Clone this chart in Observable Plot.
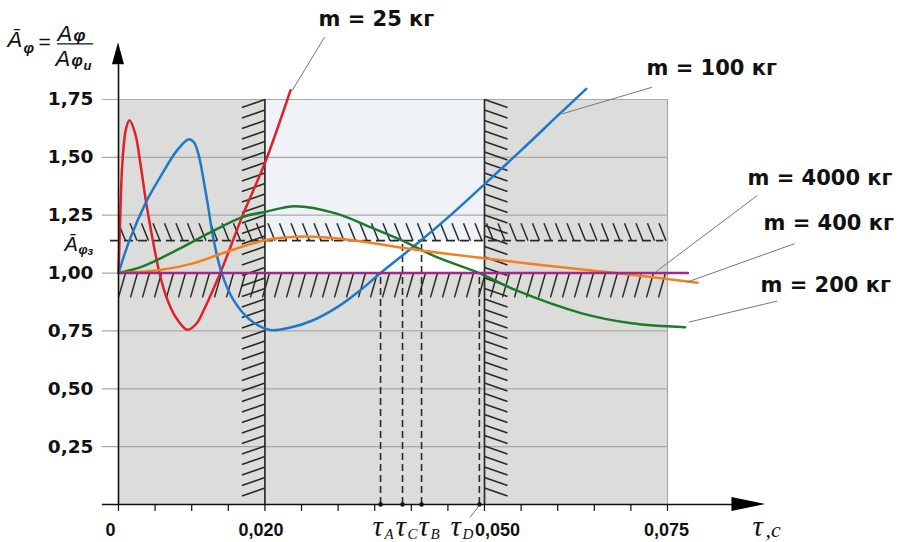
<!DOCTYPE html>
<html><head><meta charset="utf-8">
<script src="https://cdn.jsdelivr.net/npm/d3@7"></script>
<script src="https://cdn.jsdelivr.net/npm/@observablehq/plot@0.6"></script>
<style>body{margin:0;background:#fff}</style>
</head><body><div id="chart"></div>
<script>
// ---- data (time τ in s, relative amplitude Āφ) ----
const tau25  = [0,0.0002,0.0005,0.0010,0.0015,0.0023,0.0030,0.0038,0.0047,0.0056,0.0065,0.0078,0.0094,0.0106,0.0118,0.0139,0.0171,0.0201,0.0235];
const amp25  = [1.00,1.20,1.46,1.62,1.66,1.60,1.47,1.30,1.14,1.00,0.90,0.81,0.755,0.78,0.85,1.00,1.26,1.484,1.79];
const tau100 = [0,0.0016,0.0039,0.0057,0.0080,0.0096,0.0103,0.0109,0.0121,0.0130,0.0141,0.0157,0.0180,0.0207,0.0235,0.0265,0.0300,0.0330,0.0358,0.0411,0.0456,0.0502,0.0550,0.0600,0.0639];
const amp100 = [1.00,1.15,1.315,1.415,1.53,1.578,1.565,1.516,1.315,1.142,1.00,0.884,0.797,0.754,0.765,0.795,0.855,0.925,1.00,1.135,1.257,1.39,1.53,1.68,1.796];
const tau200 = [0,0.0034,0.0080,0.0125,0.0170,0.0200,0.0241,0.0298,0.0343,0.0388,0.0434,0.0493,0.0542,0.0633,0.0701,0.0774];
const amp200 = [1.00,1.03,1.10,1.175,1.243,1.264,1.289,1.257,1.20,1.14,1.07,1.00,0.927,0.826,0.783,0.766];
const tau400 = [0,0.0057,0.0102,0.0148,0.0200,0.0245,0.0280,0.0320,0.0411,0.0502,0.0550,0.0600,0.0650,0.0700,0.0745,0.0791];
const amp400 = [1.00,1.013,1.042,1.092,1.142,1.157,1.155,1.142,1.099,1.063,1.045,1.027,1.01,0.993,0.976,0.958];
const tau4000 = [0,0.0778];
const amp4000 = [1.00,1.00];

const seriesNames = ["m = 25 кг","m = 100 кг","m = 200 кг","m = 400 кг","m = 4000 кг"];
const yTicks = [0.25,0.50,0.75,1.00,1.25,1.50,1.75];
const yTickLabels = ["0,25","0,50","0,75","1,00","1,25","1,50","1,75"];
const xTicks = [0,0.020,0.050,0.075];
const xTickLabels = ["0","0,020","0,050","0,075"];
const xMinor = [0,0.005,0.010,0.015,0.020,0.025,0.030,0.035,0.040,0.045,0.050,0.055,0.060,0.065,0.070,0.075];
const ampGiven = 1.14;             // Āφз
const ampBand = [0.895, 1.215];   // tolerance band edges
const wallLeft = 0.020, wallRight = 0.050, tMax = 0.075, aMax = 1.75;
const tauNames = ["A","C","B","D"];
const tauVals  = [0.0358,0.0388,0.0414,0.0493];
const tauLevel = [1.00,1.14,1.14,1.00];

// ---- layout / style ----
const W = 900, H = 542, mL = 118, mR = 233, mT = 99, mB = 38;
const tPx = tMax / (W - mL - mR), vPx = aMax / (H - mT - mB);
const colors = ["#e0202a","#1f78c8","#1b7a2c","#f08020","#9c2a88"];
const dark = "#2a2a2a";
const seriesData = [[tau25,amp25],[tau100,amp100],[tau200,amp200],[tau400,amp400],[tau4000,amp4000]]
  .map(([ts,vs]) => ts.map((t,i) => ({t, v: vs[i]})));

const bold = {fontFamily:"DejaVu Sans", fontWeight:"bold", fill:"#111"};
const txt = (t, v, s, o) => Plot.text([{t, v, s}], {x:"t", y:"v", text:"s", ...o});
const ital = {lineAnchor:"bottom", textAnchor:"start", fontFamily:"Liberation Sans", fontStyle:"italic", fill:"#111"};

// hatch generators (decoration)
const hatchUp = d3.range(0, 0.0742, 11.5*tPx).map(t => ({x1:t, y1:ampBand[1], x2:t+7*tPx, y2:ampGiven}));
const hatchLo = d3.range(0, 0.0742, 12*tPx).map(t => ({x1:t, y1:ampBand[0], x2:t+7*tPx, y2:1.0}));
const wallSteps = d3.range(aMax, 8*vPx - 0.001, -10.5*vPx);
const hatchW1 = wallSteps.map(v => ({x1:wallLeft-23*tPx, y1:v-8*vPx, x2:wallLeft, y2:v}));
const hatchW2 = wallSteps.map(v => ({x1:wallRight, y1:v, x2:wallRight+23*tPx, y2:v-8*vPx}));
const link = (d, o) => Plot.link(d, {x1:"x1", y1:"y1", x2:"x2", y2:"y2", ...o});

// leaders: [curve point, label point]
const leaders = [
  [0.02373,1.789,0.02814,2.019],
  [0.06061,1.688,0.07291,1.803],
  [0.07791,0.788,0.08999,0.879],
  [0.07769,0.961,0.09235,1.127],
  [0.07336,1.004,0.08725,1.335]
].map(([a,b,c,d]) => ({x1:a,y1:b,x2:c,y2:d}));
const labelPos = [[0.02732,2.096],[0.07213,1.884],[0.0877,0.946],[0.08811,1.214],[0.08593,1.409]];
const xLabelShift = [-8,-4,13,-1];
const tauShift = [-8,-7,-3,-29];

const plot = Plot.plot({
  width: W, height: H, marginLeft: mL, marginRight: mR, marginTop: mT, marginBottom: mB,
  x: {domain:[0,tMax], axis:null},
  y: {domain:[0,aMax], axis:null},
  style: {background:"#fff", overflow:"visible"},
  marks: [
    Plot.rect([0], {x1:0, x2:tMax, y1:0, y2:aMax, fill:"#dcdcda"}),
    Plot.rect([0], {x1:wallLeft, x2:wallRight, y1:ampGiven, y2:aMax, fill:"#eff3f8"}),
    Plot.rect([0], {x1:wallLeft, x2:wallRight, y1:1.0, y2:ampGiven, fill:"#ffffff"}),
    Plot.ruleY(yTicks, {x1:-0.0022, x2:tMax, stroke:"#a9a9a9", strokeWidth:1.2}),
    Plot.ruleX([tMax], {y1:0, y2:aMax, stroke:"#a9a9a9", strokeWidth:1.2}),
    link(hatchUp, {stroke:dark, strokeWidth:1.5}),
    link(hatchLo, {stroke:dark, strokeWidth:1.5}),
    link(hatchW1, {stroke:dark, strokeWidth:1.6}),
    link(hatchW2, {stroke:dark, strokeWidth:1.6}),
    Plot.ruleX([wallLeft, wallRight], {y1:0, y2:aMax, stroke:dark, strokeWidth:1.7}),
    Plot.ruleY([ampGiven], {x1:-0.0011, x2:0.0745, stroke:dark, strokeWidth:1.8, strokeDasharray:"9,5"}),
    Plot.ruleX(tauVals.map((t,i)=>({t, top: tauLevel[i]})), {x:"t", y1:0, y2:"top", stroke:dark, strokeWidth:1.6, strokeDasharray:"7,4"}),
    ...seriesData.map((d,i) => Plot.line(d, {x:"t", y:"v", stroke:colors[i], strokeWidth:2.5, curve:"catmull-rom"})),
    Plot.dot(tauVals, {x:d=>d, y:0, r:2.3, fill:"#111"}),
    // axes
    Plot.ruleX([0], {y1:0, y2:1.9, stroke:"#111", strokeWidth:1.6}),
    Plot.ruleY([0], {x1:-0.0022, x2:0.0842, stroke:"#111", strokeWidth:1.6}),
    Plot.areaY([{t:-6*tPx,a:1.9,b:1.9},{t:0,a:1.9,b:1.995},{t:6*tPx,a:1.9,b:1.9}], {x:"t", y1:"a", y2:"b", fill:"#000", curve:"linear"}),
    Plot.areaX([{v:-7*vPx,a:0.0838,b:0.0838},{v:0,a:0.0838,b:0.0884},{v:7*vPx,a:0.0838,b:0.0838}], {y:"v", x1:"a", x2:"b", fill:"#000", curve:"linear"}),
    Plot.ruleX(xMinor, {y1:0, y2:-7*vPx, stroke:"#111", strokeWidth:1.2}),
    // leaders
    link(leaders, {stroke:"#777", strokeWidth:1}),
    link([{x1:0.0480, y1:-13*vPx, x2:tauVals[3], y2:-1*vPx}], {stroke:"#777", strokeWidth:1}),
    // y tick labels
    Plot.text(yTicks, {x:0, y:d=>d, text:(d,i)=>yTickLabels[i], dx:-25, textAnchor:"end", lineAnchor:"middle", fontSize:18.5, ...bold}),
    // x tick labels
    ...xTicks.map((t,i) => txt(t, 0, xTickLabels[i], {dx:xLabelShift[i], dy:31, lineAnchor:"bottom", textAnchor:"middle", fontFamily:"Liberation Sans", fontWeight:"bold", fontSize:18, fill:"#111"})),
    // tau labels
    ...tauVals.map((t,i) => txt(t, 0, "τ", {dx:tauShift[i], dy:31, lineAnchor:"bottom", textAnchor:"start", fontFamily:"Liberation Serif", fontStyle:"italic", fontSize:29, fill:"#111"})),
    ...tauVals.map((t,i) => txt(t, 0, tauNames[i], {dx:tauShift[i]+12, dy:34, lineAnchor:"bottom", textAnchor:"start", fontFamily:"Liberation Serif", fontStyle:"italic", fontSize:15, fill:"#111"})),
    txt(0.0884, 0, "τ", {dx:-13, dy:31, lineAnchor:"bottom", textAnchor:"start", fontFamily:"Liberation Serif", fontStyle:"italic", fontSize:29, fill:"#111"}),
    txt(0.0884, 0, ",с", {dx:0, dy:32, lineAnchor:"bottom", textAnchor:"start", fontFamily:"Liberation Serif", fontStyle:"italic", fontSize:22, fill:"#111"}),
    // series labels
    ...labelPos.map(([t,v],i) => txt(t, v, seriesNames[i], {textAnchor:"start", lineAnchor:"middle", fontSize:21, ...bold})),
    // Āφз label
    txt(0, ampGiven, "Ā", {...ital, dx:-54, dy:10, fontSize:20}),
    txt(0, ampGiven, "φ", {...ital, dx:-40, dy:13, fontWeight:"bold", fontSize:13}),
    txt(0, ampGiven, "з", {...ital, dx:-31, dy:14, fontWeight:"bold", fontSize:11}),
    // axis title Āφ = Aφ / Aφи
    txt(0, 1.99, "Ā", {...ital, dx:-111, dy:3, fontSize:22}),
    txt(0, 1.99, "φ", {...ital, dx:-95, dy:9, fontWeight:"bold", fontSize:15}),
    txt(0, 1.99, "=", {...ital, fontStyle:"normal", dx:-80, dy:5, fontSize:21}),
    txt(0, 1.99, "A", {...ital, dx:-61, dy:-3, fontSize:22}),
    txt(0, 1.99, "φ", {...ital, dx:-45, dy:-3, fontWeight:"bold", fontSize:17}),
    Plot.ruleY([1.99], {x1:-0.00833, x2:-0.00340, stroke:"#111", strokeWidth:1.3}),
    txt(0, 1.99, "A", {...ital, dx:-63, dy:22.5, fontSize:22}),
    txt(0, 1.99, "φ", {...ital, dx:-47, dy:22.5, fontWeight:"bold", fontSize:16}),
    txt(0, 1.99, "и", {...ital, dx:-35, dy:26, fontWeight:"bold", fontSize:13})
  ]
});
document.getElementById("chart").appendChild(plot);
</script>
</body></html>
